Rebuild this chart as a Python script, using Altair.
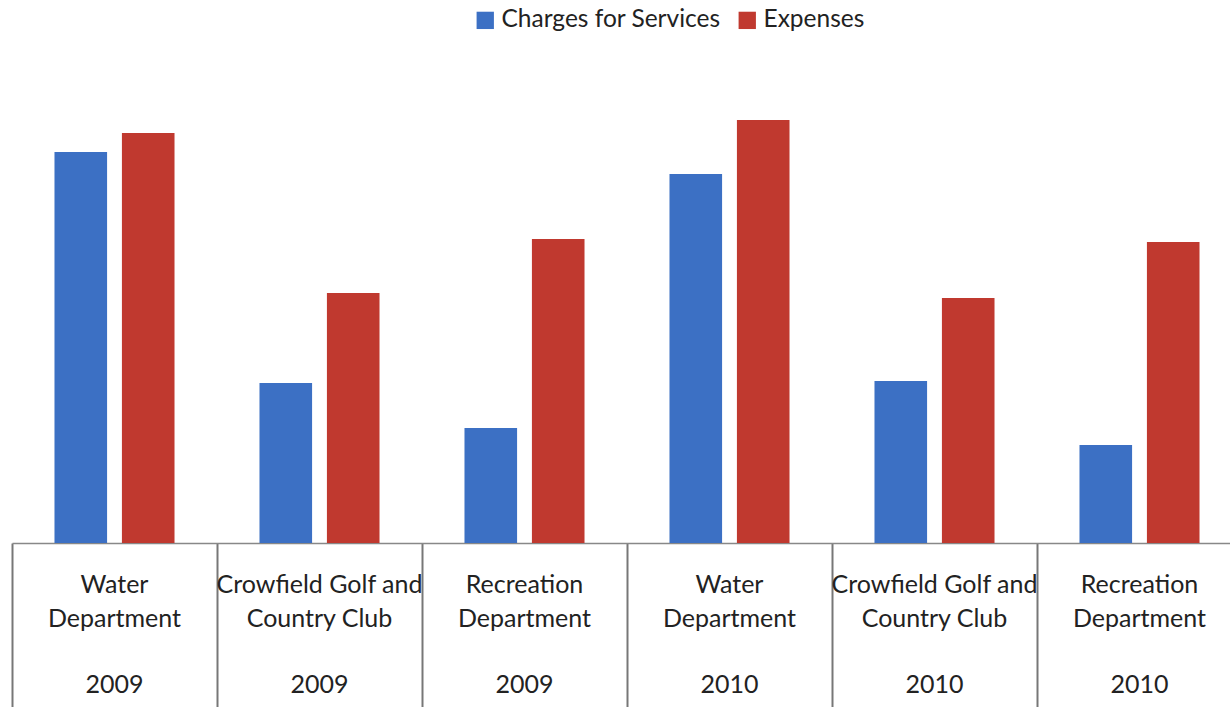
import altair as alt
import pandas as pd

categories = ["Water Department 2009", "Crowfield Golf and Country Club 2009",
              "Recreation Department 2009", "Water Department 2010",
              "Crowfield Golf and Country Club 2010", "Recreation Department 2010"]
line1 = ["Water", "Crowfield Golf and", "Recreation", "Water", "Crowfield Golf and", "Recreation"]
line2 = ["Department", "Country Club", "Department", "Department", "Country Club", "Department"]
years = ["2009", "2009", "2009", "2010", "2010", "2010"]
charges = [391, 160, 115, 369, 162, 98]
expenses = [410, 250, 304, 423, 245, 301]
series = ["Charges for Services", "Expenses"]
colors = ["#3C70C4", "#C0392F"]

rows = []
for i, c in enumerate(categories):
    rows.append({"cat": c, "series": series[0], "value": charges[i]})
    rows.append({"cat": c, "series": series[1], "value": expenses[i]})
df = pd.DataFrame(rows)
lab = pd.DataFrame({"cat": categories, "l1": line1, "l2": line2, "yr": years})

FONT = "Lato"
xscale = alt.Scale(paddingInner=0, paddingOuter=0, range=[0, 1230])
x = alt.X("cat:N", sort=categories, title=None, scale=xscale,
          axis=alt.Axis(labels=False, tickBand="extent", tickSize=164, tickColor="#777",
                        tickWidth=2, domainColor="#888", domainWidth=1.5, grid=False))

bars = alt.Chart(df).mark_bar().encode(
    x=x,
    xOffset=alt.XOffset("series:N", sort=series,
                        scale=alt.Scale(paddingInner=0.22, paddingOuter=0.63)),
    y=alt.Y("value:Q", scale=alt.Scale(domain=[0, 493]), axis=None),
    color=alt.Color("series:N", sort=series,
                    scale=alt.Scale(domain=series, range=colors),
                    legend=alt.Legend(title=None, orient="none", direction="horizontal",
                                      legendX=461, legendY=-42, symbolType="square",
                                      symbolSize=300, labelFontSize=24.5, labelFont=FONT,
                                      labelColor="#222", columnPadding=14, labelLimit=400,
                                      labelOffset=4, symbolStrokeWidth=0)),
)

def txt(field, ypx):
    return alt.Chart(lab).mark_text(font=FONT, fontSize=25, color="#222",
                                    baseline="middle").encode(
        x=alt.X("cat:N", sort=categories),
        y=alt.value(ypx),
        text=f"{field}:N",
    )

chart = alt.layer(bars, txt("l1", 535), txt("l2", 569), txt("yr", 635)).properties(
    width=1218, height=493,
    autosize=alt.AutoSizeParams(type="none"),
    padding={"left": 12, "top": 50, "right": 0, "bottom": 164},
).configure(background="white").configure_view(stroke=None)

chart.save("out.html", embed_options={"renderer": "svg", "actions": False})
